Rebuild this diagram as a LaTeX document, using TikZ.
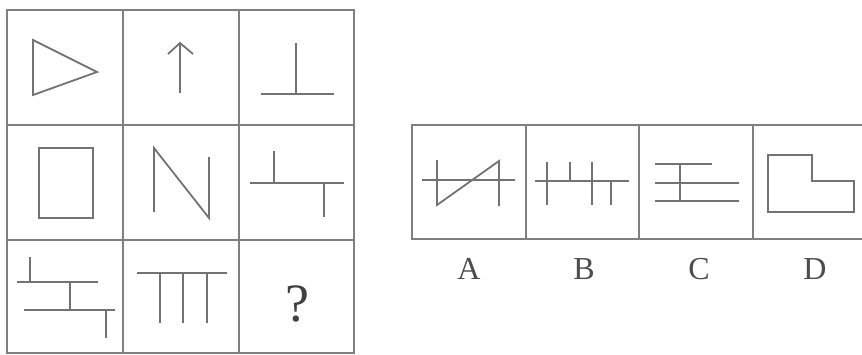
\documentclass[tikz,border=0pt]{standalone}
\usepackage{fontspec}
\setmainfont{Liberation Serif}
\begin{document}
\begin{tikzpicture}[x=1pt,y=-1pt,
  gridline/.style={draw=black!50,line width=2pt},
  fig/.style={draw=black!55,line width=1.8pt},
  optlabel/.style={text=black!70,font=\fontsize{32}{34}\selectfont,inner sep=0pt},
  qmark/.style={text=black!75,font=\fontsize{54}{56}\selectfont,inner sep=0pt}]
\useasboundingbox[fill=white] (0,0) rectangle (862,354);
% ---- 3x3 grid ----
\draw[gridline] (7,10) rectangle (354,353);
\draw[gridline] (123,10) -- (123,353) (239,10) -- (239,353);
\draw[gridline] (7,125) -- (354,125) (7,240) -- (354,240);
% row 1
\draw[fig] (33,40) -- (33,95) -- (97,72) -- cycle;
\draw[fig] (180,93) -- (180,43);
\draw[fig] (168,54) -- (180,43) -- (193,54);
\draw[fig] (296,43) -- (296,94) (261,94) -- (334,94);
% row 2
\draw[fig] (39,148) rectangle (93,218);
\draw[fig] (154,212) -- (154,148) -- (209,218) -- (209,157);
\draw[fig] (250,183) -- (344,183) (274,151) -- (274,183) (324,183) -- (324,217);
% row 3
\draw[fig] (30,257) -- (30,282) (17,282) -- (98,282) (70,282) -- (70,310)
  (24,310) -- (115,310) (106,310) -- (106,338);
\draw[fig] (137,273) -- (227,273) (160,273) -- (160,323) (183,273) -- (183,323)
  (207,273) -- (207,323);
\node[qmark] (q) at (297,304) {?};
% ---- options ----
\draw[gridline] (862,125) -- (412,125) -- (412,239) -- (862,239);
\draw[gridline] (526,125) -- (526,239) (639,125) -- (639,239) (753,125) -- (753,239);
% A
\draw[fig] (422,180) -- (515,180) (437,160) -- (437,205) -- (499,161) -- (499,206);
% B
\draw[fig] (535,181) -- (629,181) (547,162) -- (547,205) (570,162) -- (570,181)
  (592,162) -- (592,205) (611,181) -- (611,205);
% C
\draw[fig] (655,164) -- (712,164) (655,183) -- (739,183) (655,201) -- (739,201)
  (680,164) -- (680,201);
% D
\draw[fig] (768,155) -- (812,155) -- (812,181) -- (854,181) -- (854,212) -- (768,212) -- cycle;
% labels
\node[optlabel] (la) at (469,269) {A};
\node[optlabel] (lb) at (584,269) {B};
\node[optlabel] (lc) at (699,269) {C};
\node[optlabel] (ld) at (815,269) {D};
\end{tikzpicture}
\end{document}
